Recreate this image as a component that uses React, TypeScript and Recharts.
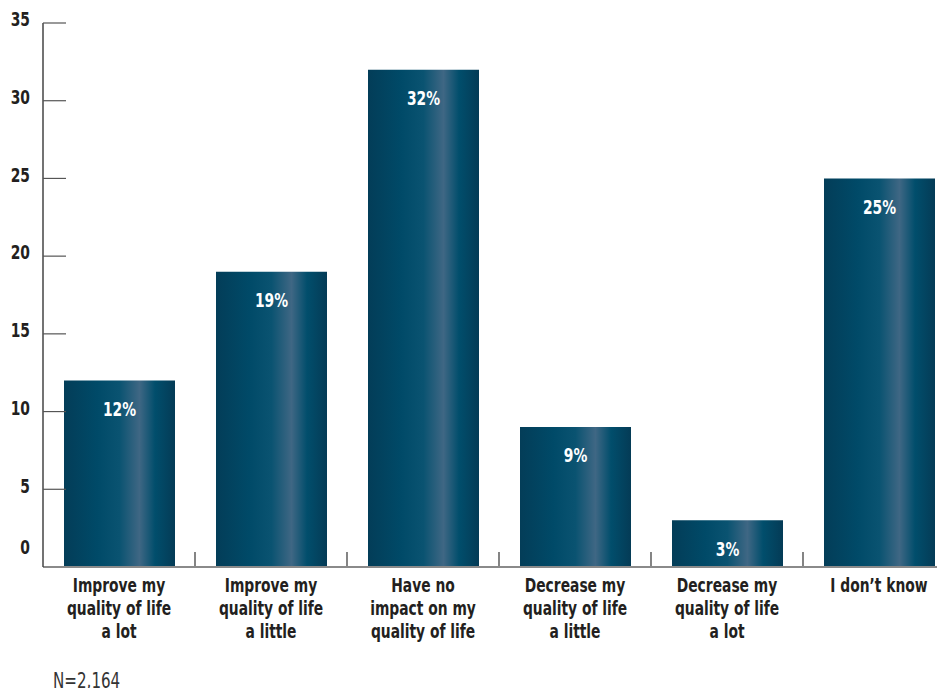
import { BarChart, Bar, XAxis, YAxis, LabelList } from "recharts";

const categories = [
  "Improve my\nquality of life\na lot",
  "Improve my\nquality of life\na little",
  "Have no\nimpact on my\nquality of life",
  "Decrease my\nquality of life\na little",
  "Decrease my\nquality of life\na lot",
  "I don\u2019t know",
];
const shares = [12, 19, 32, 9, 3, 25];
const yTicks = [0, 5, 10, 15, 20, 25, 30, 35];
const sampleNote = "N=2,164";

const data = categories.map((name, i) => ({ name, value: shares[i] }));

// no condensed DIN-like face available, so squeeze DejaVu Condensed horizontally
const FONT = "'DejaVu Sans Condensed', 'DejaVu Sans', sans-serif";
const SQUEEZE = 0.77;
const AXIS_X = 43;
const BAND = 152;

function YTick(props: any) {
  const { y, payload } = props;
  const isZero = payload.value === 0;
  const ty = isZero ? y - 20 : y - 4;
  return (
    <g>
      {!isZero && (
        <line x1={AXIS_X} x2={AXIS_X + 23} y1={y} y2={y} stroke="#555" strokeWidth={1.2} />
      )}
      <text
        transform={`translate(30 ${ty}) scale(${SQUEEZE} 1)`}
        textAnchor="end"
        dominantBaseline="central"
        fontFamily={FONT}
        fontWeight="bold"
        fontSize={20}
        fill="#231f20"
      >
        {payload.value}
      </text>
    </g>
  );
}

function XTick(props: any) {
  const { x, y, payload, index } = props;
  const lines = String(payload.value).split("\n");
  return (
    <g>
      {index > 0 && (
        <line x1={x - BAND / 2} x2={x - BAND / 2} y1={y - 23} y2={y - 9} stroke="#333" strokeWidth={1.2} />
      )}
      <text
        transform={`translate(${x} ${y}) scale(${SQUEEZE} 1)`}
        textAnchor="middle"
        fontFamily={FONT}
        fontWeight="bold"
        fontSize={20}
        fill="#231f20"
      >
        {lines.map((l, i) => (
          <tspan key={i} x={0} y={17 + i * 23}>
            {l}
          </tspan>
        ))}
      </text>
    </g>
  );
}

function BarValue(props: any) {
  const { x, y, width, value } = props;
  return (
    <text
      transform={`translate(${x + width / 2} ${y + 28}) scale(${SQUEEZE} 1)`}
      textAnchor="middle"
      dominantBaseline="central"
      fontFamily={FONT}
      fontWeight="bold"
      fontSize={20}
      fill="#ffffff"
    >
      {value}%
    </text>
  );
}

export default function App() {
  return (
    <div
      style={{
        position: "relative",
        width: 945,
        height: 696,
        margin: -8,
        overflow: "hidden",
        background: "#fff",
      }}
    >
      <BarChart
        width={955}
        height={696}
        data={data}
        margin={{ top: 23, right: 0, bottom: 0, left: 0 }}
      >
        <defs>
          <linearGradient id="barShade" x1="0" y1="0" x2="1" y2="0">
            <stop offset="0%" stopColor="#033d58" />
            <stop offset="30%" stopColor="#004a68" />
            <stop offset="50%" stopColor="#0a5371" />
            <stop offset="68%" stopColor="#3f6784" />
            <stop offset="82%" stopColor="#014e6c" />
            <stop offset="100%" stopColor="#043b56" />
          </linearGradient>
        </defs>
        <XAxis
          dataKey="name"
          height={129}
          interval={0}
          axisLine={{ stroke: "#8a8a8a", strokeWidth: 2 }}
          tickLine={false}
          tick={<XTick />}
        />
        <YAxis
          width={AXIS_X}
          domain={[0, 35]}
          ticks={yTicks}
          interval={0}
          axisLine={{ stroke: "#444", strokeWidth: 1.5 }}
          tickLine={false}
          tick={<YTick />}
        />
        <Bar dataKey="value" fill="url(#barShade)" barSize={111} isAnimationActive={false}>
          <LabelList dataKey="value" content={<BarValue />} />
        </Bar>
      </BarChart>
      <div
        style={{
          position: "absolute",
          left: 53,
          top: 668,
          fontFamily: FONT,
          fontSize: 21,
          color: "#333",
          lineHeight: "26px",
          transform: "scaleX(0.8)",
          transformOrigin: "left center",
          whiteSpace: "nowrap",
        }}
      >
        {sampleNote}
      </div>
    </div>
  );
}
